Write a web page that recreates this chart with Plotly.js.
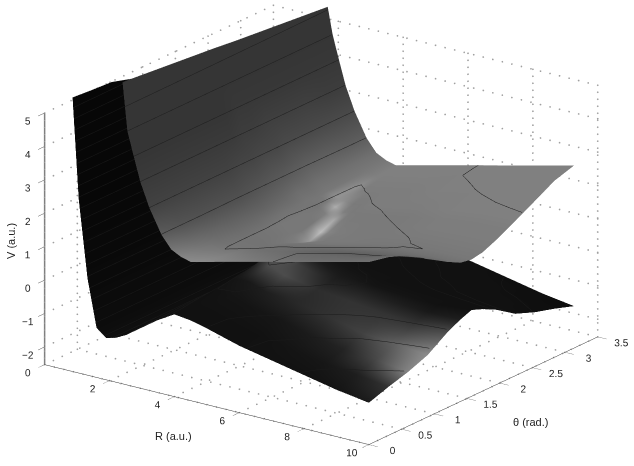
<!DOCTYPE html>
<html>
<head>
<meta charset="utf-8">
<script src="https://cdn.plot.ly/plotly-3.0.1.min.js"></script>
<style>html,body{margin:0;padding:0;background:#fff}#chart{width:634px;height:466px}</style>
</head>
<body>
<div id="chart"></div>
<script>
const theta = [0, 0.3, 0.6, 0.9, 1.2, 1.4, 1.57, 1.74, 1.94, 2.24, 2.54, 2.84, 3.14];
const upperTheta = [0, 0.3, 0.6, 0.9, 1.2, 1.4, 1.57, 1.74, 1.94, 2.09, 2.24, 2.54, 2.84, 3.14];

const upperR = [2.4, 2.55, 2.74, 2.95, 3.23, 3.6, 3.9, 4.2, 4.5, 4.75, 5, 5.25, 5.5, 6, 7, 8, 9, 10];
// one row per R, one column per upperTheta
const upperV = [
  [6.5, 6.44, 6.38, 6.32, 6.26, 6.22, 6.18, 6.14, 6.1, 6.07, 6.04, 5.98, 5.92, 5.86],
  [5.07, 5.07, 5.07, 5.07, 5.07, 5.07, 5.07, 5.07, 5.07, 5.07, 5.07, 5.07, 5.07, 5.07],
  [4.38, 4.38, 4.38, 4.38, 4.38, 4.38, 4.38, 4.38, 4.38, 4.38, 4.38, 4.38, 4.38, 4.38],
  [3.64, 3.64, 3.64, 3.64, 3.64, 3.64, 3.64, 3.64, 3.64, 3.64, 3.64, 3.64, 3.64, 3.64],
  [2.93, 2.93, 2.93, 2.93, 2.93, 2.93, 2.93, 2.93, 2.93, 2.93, 2.93, 2.93, 2.93, 2.93],
  [2.22, 2.22, 2.22, 2.2, 2.18, 2.18, 2.18, 2.18, 2.18, 2.18, 2.18, 2.2, 2.22, 2.22],
  [1.85, 1.85, 1.82, 1.8, 1.78, 1.78, 1.78, 1.78, 1.78, 1.78, 1.8, 1.82, 1.85, 1.85],
  [1.7, 1.68, 1.62, 1.6, 1.6, 1.6, 1.58, 1.6, 1.6, 1.6, 1.6, 1.62, 1.68, 1.7],
  [1.62, 1.58, 1.5, 1.5, 1.5, 1.48, 1.46, 1.48, 1.5, 1.5, 1.5, 1.5, 1.58, 1.62],
  [1.68, 1.62, 1.52, 1.44, 1.34, 1.24, 1.16, 1.24, 1.34, 1.4, 1.44, 1.52, 1.62, 1.68],
  [1.74, 1.68, 1.56, 1.4, 1.2, 1.02, 0.9, 1.02, 1.2, 1.3, 1.4, 1.56, 1.68, 1.74],
  [1.8, 1.73, 1.6, 1.45, 1.25, 1.08, 0.98, 1.08, 1.25, 1.36, 1.45, 1.6, 1.73, 1.8],
  [1.86, 1.78, 1.65, 1.5, 1.3, 1.12, 1.05, 1.12, 1.3, 1.4, 1.5, 1.65, 1.78, 1.86],
  [1.98, 1.88, 1.74, 1.56, 1.38, 1.22, 1.15, 1.22, 1.38, 1.47, 1.56, 1.74, 1.88, 1.98],
  [2.22, 2.2, 1.98, 1.75, 1.54, 1.42, 1.3, 1.42, 1.54, 1.64, 1.75, 1.98, 2.2, 2.22],
  [2.45, 2.38, 2.18, 1.92, 1.68, 1.56, 1.5, 1.56, 1.68, 1.8, 1.92, 2.18, 2.38, 2.45],
  [2.69, 2.55, 2.32, 2.05, 1.75, 1.6, 1.54, 1.6, 1.75, 1.9, 2.05, 2.32, 2.55, 2.69],
  [2.93, 2.8, 2.58, 2.2, 1.83, 1.62, 1.56, 1.62, 1.79, 1.94, 2.1, 2.42, 2.75, 2.93]
];
const upperShade = [
  [0.21, 0.21, 0.21, 0.21, 0.21, 0.21, 0.21, 0.21, 0.21, 0.21, 0.21, 0.21, 0.21, 0.21],
  [0.21, 0.21, 0.21, 0.21, 0.21, 0.21, 0.21, 0.21, 0.21, 0.21, 0.21, 0.21, 0.21, 0.21],
  [0.21, 0.21, 0.21, 0.21, 0.21, 0.21, 0.22, 0.22, 0.22, 0.22, 0.22, 0.22, 0.22, 0.22],
  [0.23, 0.23, 0.23, 0.23, 0.23, 0.23, 0.24, 0.24, 0.25, 0.25, 0.25, 0.25, 0.24, 0.24],
  [0.26, 0.26, 0.26, 0.26, 0.26, 0.27, 0.27, 0.28, 0.28, 0.29, 0.29, 0.29, 0.29, 0.29],
  [0.36, 0.33, 0.32, 0.32, 0.32, 0.33, 0.34, 0.35, 0.36, 0.37, 0.38, 0.38, 0.37, 0.37],
  [0.46, 0.42, 0.4, 0.39, 0.39, 0.39, 0.4, 0.41, 0.43, 0.43, 0.44, 0.44, 0.44, 0.44],
  [0.52, 0.47, 0.44, 0.43, 0.43, 0.44, 0.45, 0.45, 0.46, 0.46, 0.47, 0.47, 0.47, 0.47],
  [0.55, 0.5, 0.46, 0.45, 0.46, 0.47, 0.47, 0.47, 0.46, 0.48, 0.58, 0.56, 0.5, 0.5],
  [0.55, 0.5, 0.46, 0.45, 0.46, 0.47, 0.47, 0.47, 0.5, 0.68, 0.55, 0.49, 0.5, 0.5],
  [0.54, 0.5, 0.46, 0.45, 0.47, 0.5, 0.6, 0.74, 0.66, 0.5, 0.48, 0.49, 0.5, 0.5],
  [0.53, 0.49, 0.45, 0.45, 0.46, 0.47, 0.5, 0.52, 0.49, 0.48, 0.48, 0.49, 0.5, 0.5],
  [0.52, 0.48, 0.44, 0.44, 0.46, 0.47, 0.48, 0.49, 0.48, 0.48, 0.49, 0.49, 0.5, 0.5],
  [0.5, 0.46, 0.43, 0.43, 0.45, 0.47, 0.48, 0.48, 0.48, 0.48, 0.49, 0.49, 0.5, 0.5],
  [0.46, 0.42, 0.4, 0.41, 0.44, 0.46, 0.47, 0.48, 0.48, 0.48, 0.49, 0.5, 0.5, 0.5],
  [0.44, 0.41, 0.38, 0.4, 0.43, 0.45, 0.47, 0.48, 0.49, 0.49, 0.5, 0.5, 0.5, 0.5],
  [0.44, 0.41, 0.38, 0.4, 0.42, 0.45, 0.47, 0.48, 0.49, 0.49, 0.5, 0.5, 0.5, 0.5],
  [0.44, 0.42, 0.4, 0.4, 0.42, 0.45, 0.47, 0.48, 0.49, 0.49, 0.5, 0.5, 0.5, 0.5]
];

const lowerR = [0.86, 1.05, 1.32, 1.6, 1.9, 2.2, 2.5, 3, 3.5, 4, 4.5, 5, 6, 7, 8, 9, 10];
const lowerV = [
  [5.67, 5.62, 5.58, 5.4, 4.8, 4.4, 4, 3.8, 3.8, 3.8, 3.8, 3.8, 3.8],
  [2.67, 2.67, 2.67, 2.67, 2.67, 2.67, 2.67, 2.67, 2.67, 2.67, 2.67, 2.67, 2.67],
  [0.37, 0.37, 0.37, 0.37, 0.37, 0.37, 0.37, 0.37, 0.37, 0.37, 0.37, 0.37, 0.37],
  [-1.05, -1.05, -1.05, -1.05, -1.05, -1.05, -1.05, -1.05, -1.05, -1.05, -1.05, -1.05, -1.05],
  [-1.28, -1.28, -1.28, -1.28, -1.28, -1.28, -1.28, -1.28, -1.28, -1.28, -1.28, -1.28, -1.28],
  [-1.2, -1.2, -1.2, -1.2, -1.2, -1.2, -1.2, -1.2, -1.2, -1.2, -1.2, -1.2, -1.2],
  [-1.05, -1.05, -1.05, -1.05, -1.05, -1.05, -1.05, -1.05, -1.05, -1.05, -1.05, -1.05, -1.05],
  [-0.66, -0.65, -0.63, -0.63, -0.58, -0.58, -0.58, -0.58, -0.58, -0.63, -0.63, -0.65, -0.66],
  [-0.36, -0.33, -0.28, -0.23, -0.18, -0.13, -0.13, -0.13, -0.18, -0.23, -0.28, -0.33, -0.36],
  [-0.07, -0.03, 0.07, 0.17, 0.27, 0.37, 0.42, 0.37, 0.27, 0.17, 0.07, -0.03, -0.07],
  [-0.13, -0.08, 0.05, 0.19, 0.42, 0.57, 0.57, 0.57, 0.42, 0.19, 0.05, -0.08, -0.13],
  [-0.25, -0.23, -0.11, 0.02, 0.22, 0.37, 0.47, 0.37, 0.22, 0.02, -0.11, -0.23, -0.25],
  [-0.53, -0.51, -0.28, -0.11, 0.05, 0.12, 0.15, 0.12, 0.05, -0.11, -0.28, -0.51, -0.53],
  [-0.73, -0.7, -0.55, -0.28, -0.06, 0.05, 0.07, 0.05, -0.06, -0.28, -0.55, -0.7, -0.73],
  [-0.93, -0.85, -0.71, -0.51, -0.16, -0.05, -0.01, -0.05, -0.16, -0.51, -0.71, -0.85, -0.93],
  [-1.13, -0.95, -0.78, -0.58, -0.23, -0.08, -0.03, -0.08, -0.23, -0.58, -0.78, -0.95, -1.13],
  [-1.28, -1.08, -0.91, -0.68, -0.28, -0.08, 0.05, -0.08, -0.28, -0.68, -0.91, -1.08, -1.28]
];
const lowerShade = [
  [0.03, 0.03, 0.03, 0.03, 0.03, 0.03, 0.03, 0.03, 0.03, 0.03, 0.03, 0.03, 0.03],
  [0.03, 0.03, 0.03, 0.03, 0.03, 0.03, 0.03, 0.03, 0.03, 0.03, 0.03, 0.03, 0.03],
  [0.04, 0.04, 0.04, 0.04, 0.04, 0.04, 0.04, 0.04, 0.04, 0.04, 0.04, 0.04, 0.04],
  [0.05, 0.05, 0.05, 0.05, 0.05, 0.05, 0.05, 0.05, 0.05, 0.05, 0.05, 0.05, 0.05],
  [0.06, 0.06, 0.06, 0.06, 0.06, 0.06, 0.06, 0.06, 0.06, 0.06, 0.06, 0.06, 0.06],
  [0.06, 0.06, 0.06, 0.06, 0.06, 0.06, 0.06, 0.06, 0.06, 0.06, 0.06, 0.06, 0.06],
  [0.07, 0.07, 0.07, 0.07, 0.07, 0.07, 0.07, 0.07, 0.07, 0.07, 0.07, 0.07, 0.07],
  [0.07, 0.07, 0.07, 0.07, 0.07, 0.07, 0.07, 0.07, 0.07, 0.07, 0.07, 0.07, 0.07],
  [0.07, 0.07, 0.07, 0.07, 0.07, 0.08, 0.08, 0.07, 0.07, 0.07, 0.07, 0.07, 0.07],
  [0.07, 0.07, 0.07, 0.08, 0.12, 0.2, 0.12, 0.08, 0.07, 0.07, 0.07, 0.07, 0.07],
  [0.07, 0.07, 0.08, 0.1, 0.3, 0.36, 0.16, 0.09, 0.07, 0.07, 0.07, 0.07, 0.07],
  [0.07, 0.07, 0.08, 0.12, 0.3, 0.25, 0.12, 0.08, 0.07, 0.07, 0.07, 0.07, 0.07],
  [0.07, 0.07, 0.09, 0.16, 0.18, 0.13, 0.1, 0.08, 0.07, 0.07, 0.07, 0.07, 0.07],
  [0.07, 0.08, 0.11, 0.2, 0.2, 0.13, 0.08, 0.07, 0.07, 0.07, 0.07, 0.07, 0.07],
  [0.07, 0.09, 0.14, 0.26, 0.2, 0.12, 0.08, 0.07, 0.07, 0.07, 0.07, 0.07, 0.06],
  [0.08, 0.12, 0.28, 0.38, 0.2, 0.1, 0.07, 0.07, 0.07, 0.07, 0.07, 0.06, 0.06],
  [0.11, 0.2, 0.52, 0.55, 0.3, 0.12, 0.07, 0.07, 0.07, 0.07, 0.06, 0.06, 0.05]
];

const rTicks = [0, 2, 4, 6, 8, 10];
const thetaTicks = [0, 0.5, 1, 1.5, 2, 2.5, 3, 3.5];
const vTicks = [-2, -1, 0, 1, 2, 3, 4, 5];
const vBottom = -2.53;
const vTop = 6.7;
const vGridTop = 5;

const flat = {ambient: 1, diffuse: 0, specular: 0, roughness: 1, fresnel: 0};
const grayScale = [[0, 'rgb(0,0,0)'], [1, 'rgb(255,255,255)']];

const lower = {
  type: 'surface', x: lowerR, y: theta, z: lowerV[0].map((_, j) => lowerV.map(row => row[j])),
  surfacecolor: lowerShade[0].map((_, j) => lowerShade.map(row => row[j])),
  colorscale: grayScale, cmin: 0, cmax: 1, showscale: false, lighting: flat, hoverinfo: 'skip',
  contours: {x: {highlight: false}, y: {highlight: false},
    z: {show: true, start: -1.23, end: 5.7, size: 0.33, color: '#1a1a1a', width: 1, highlight: false}}
};
const upper = {
  type: 'surface', x: upperR, y: upperTheta, z: upperV[0].map((_, j) => upperV.map(row => row[j])),
  surfacecolor: upperShade[0].map((_, j) => upperShade.map(row => row[j])),
  colorscale: grayScale, cmin: 0, cmax: 1, showscale: false, lighting: flat, hoverinfo: 'skip',
  contours: {x: {highlight: false}, y: {highlight: false},
    z: {show: true, start: 1.52, end: 6.5, size: 0.71, color: '#1e1e1e', width: 1, highlight: false}}
};

// dotted box grid as small markers, plotly's own grid would run up to vTop
const gx = [], gy = [], gz = [];
function dots(a, b, n) {
  for (let i = 0; i <= n; i++) {
    const t = i / n;
    gx.push(a[0] + (b[0] - a[0]) * t);
    gy.push(a[1] + (b[1] - a[1]) * t);
    gz.push(a[2] + (b[2] - a[2]) * t);
  }
}
rTicks.forEach(r => { dots([r, 0, vBottom], [r, 3.5, vBottom], 26); dots([r, 3.5, vBottom], [r, 3.5, vGridTop], 36); });
thetaTicks.forEach(t => { dots([10, t, vBottom], [0, t, vBottom], 34); dots([0, t, vBottom], [0, t, vGridTop], 36); });
vTicks.forEach(v => { dots([0, 0, v], [0, 3.5, v], 26); dots([0, 3.5, v], [10, 3.5, v], 34); });
const grid = {
  type: 'scatter3d', mode: 'markers', x: gx, y: gy, z: gz, hoverinfo: 'skip', showlegend: false,
  marker: {color: '#a0a0a0', size: 1, line: {width: 0}}
};
const vAxisLine = {
  type: 'scatter3d', mode: 'lines', x: [0, 0], y: [0, 0], z: [vBottom, vGridTop], hoverinfo: 'skip', showlegend: false,
  line: {color: '#808080', width: 3}
};

const axisBase = {
  showbackground: false, showgrid: false, zeroline: false, showspikes: false,
  ticks: 'outside', ticklen: 11, tickcolor: '#555555', tickangle: 0,
  tickfont: {family: 'Liberation Sans', size: 11, color: '#222222'}, title: {text: ''}
};
const labelFont = {family: 'Liberation Sans', size: 11, color: '#222222'};

const layout = {
  width: 634, height: 466, margin: {l: 0, r: 0, t: 0, b: 0},
  paper_bgcolor: '#ffffff', showlegend: false,
  scene: {
    domain: {x: [0, 1], y: [0, 1]},
    aspectmode: 'manual', aspectratio: {x: 1.718, y: 1.675, z: 1.408},
    camera: {
      projection: {type: 'orthographic'},
      eye: {x: 1.117, y: -1.574, z: 0.533}, center: {x: 0.017, y: -0.054, z: -0.147}, up: {x: 0, y: 0, z: 1}
    },
    xaxis: Object.assign({}, axisBase, {range: [0, 10], tickvals: rTicks, showline: true, linecolor: '#333333', linewidth: 1}),
    yaxis: Object.assign({}, axisBase, {range: [0, 3.5], tickvals: thetaTicks, showline: true, linecolor: '#333333', linewidth: 1}),
    zaxis: Object.assign({}, axisBase, {range: [vBottom, vTop], tickvals: vTicks, showline: false, ticklen: 5})
  },
  annotations: [
    {text: 'R (a.u.)', xref: 'paper', yref: 'paper', x: 173 / 634, y: 1 - 436 / 466, xanchor: 'center', yanchor: 'middle', showarrow: false, font: labelFont},
    {text: 'θ (rad.)', xref: 'paper', yref: 'paper', x: 530 / 634, y: 1 - 422 / 466, xanchor: 'center', yanchor: 'middle', showarrow: false, font: labelFont},
    {text: 'V (a.u.)', xref: 'paper', yref: 'paper', x: 11 / 634, y: 1 - 241 / 466, xanchor: 'center', yanchor: 'middle', textangle: -90, showarrow: false, font: labelFont}
  ]
};

Plotly.newPlot('chart', [grid, vAxisLine, lower, upper], layout, {displayModeBar: false});
</script>
</body>
</html>
